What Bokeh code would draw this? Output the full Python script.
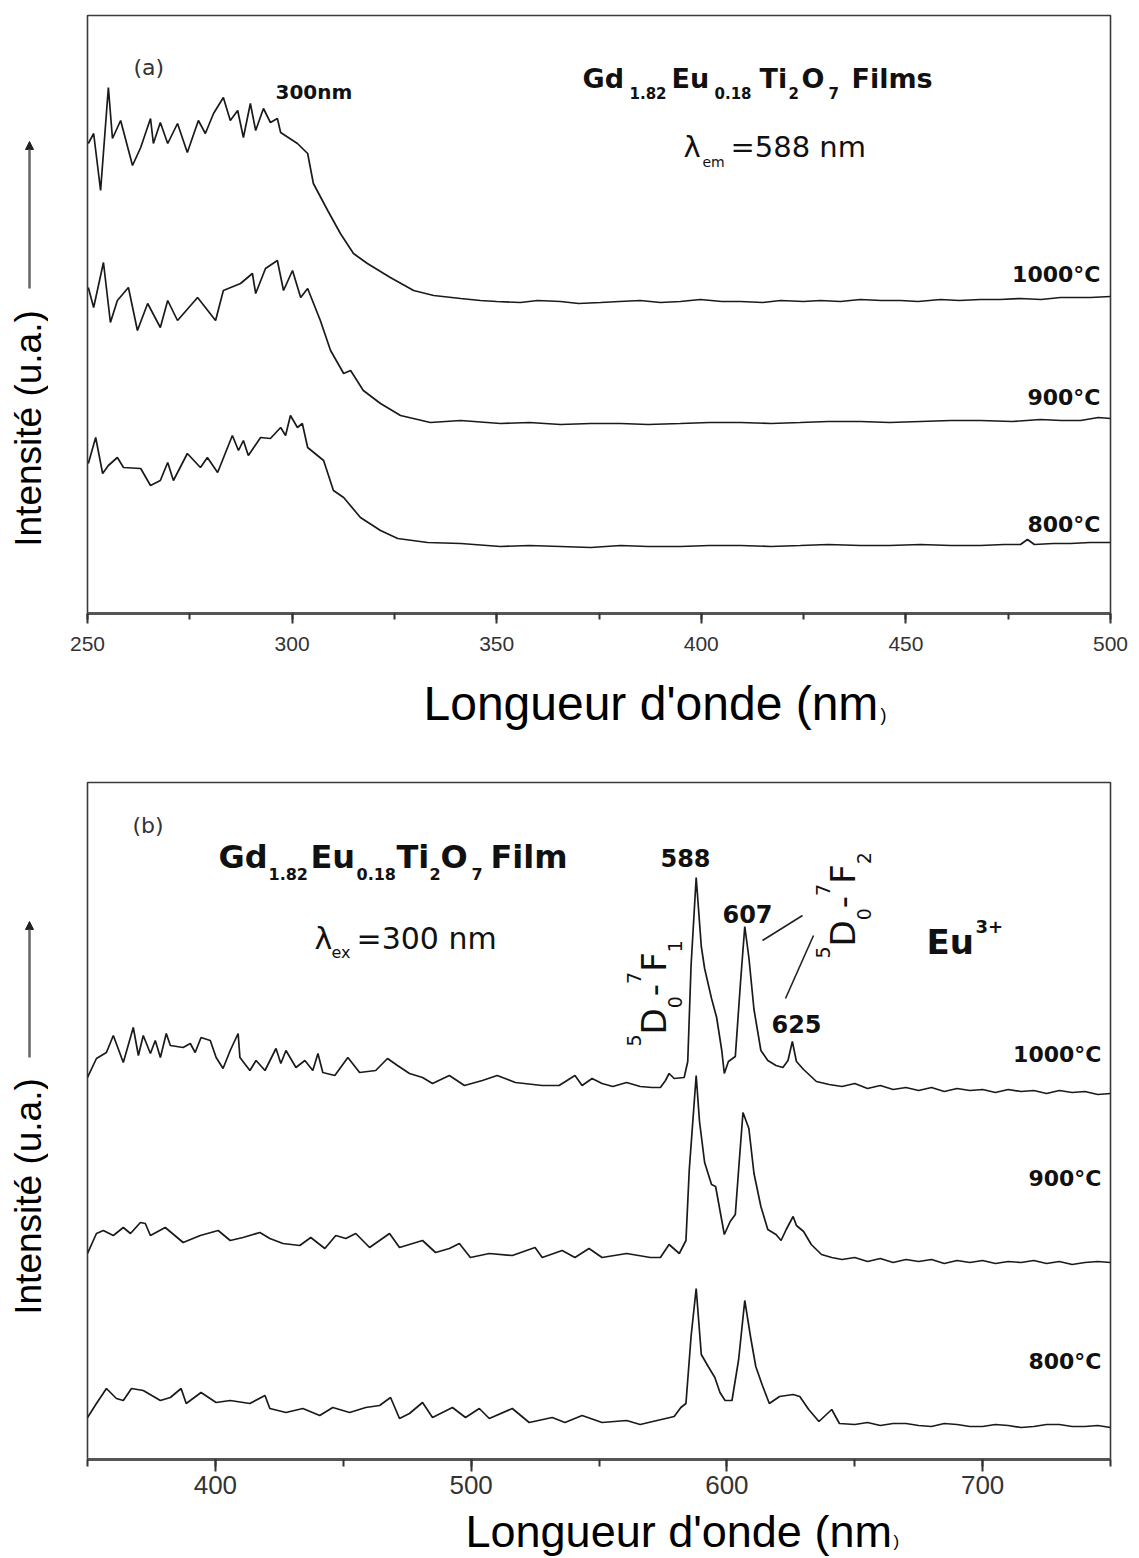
import math
from bokeh.plotting import figure
from bokeh.layouts import column, row
from bokeh.models import Label, Arrow, NormalHead, SingleIntervalTicker, Range1d
from bokeh.embed import file_html
from bokeh.resources import INLINE

# ---------------- Panel (a): excitation spectra (lambda_em = 588 nm) ----------------
a_x_1000 = [250.2, 251.5, 253.2, 255.1, 256.1, 258.1, 261.0, 263.0, 265.4, 266.1, 267.8, 269.6,
            272.0, 274.4, 277.1, 278.8, 280.8, 283.2, 284.9, 286.7, 288.1, 289.8, 291.1, 293.0,
            294.7, 296.4, 297.2, 301.3, 303.8, 305.2, 308.7, 311.8, 315.0, 318.4, 324.0, 329.7,
            334.6, 341.2, 346.0, 350.0, 355.8, 360.0, 365.6, 370.0, 375.4, 380.0, 385.1, 390.0,
            394.9, 399.8, 405.0, 409.6, 415.0, 419.4, 425.0, 429.1, 434.0, 438.9, 444.0, 448.7,
            453.0, 458.5, 463.0, 468.2, 473.0, 478.0, 483.0, 487.8, 492.0, 495.1, 500.0]
a_y_1000 = [470, 480, 423, 526, 475, 493, 448, 466, 495, 470, 491, 470,
            490, 461, 493, 480, 500, 516, 493, 503, 476, 510, 483, 505,
            491, 495, 481, 470, 460, 430, 403, 380, 360, 350, 336, 323,
            318, 315, 313, 312, 311, 313, 312, 310, 311, 312, 313, 311,
            312, 314, 312, 312, 311, 313, 312, 313, 312, 314, 313, 313,
            312, 314, 313, 314, 314, 315, 314, 316, 316, 316, 317]

a_x_900 = [250.2, 251.5, 253.9, 255.6, 257.3, 260.0, 262.2, 264.7, 267.8, 269.6, 272.0, 276.9,
           281.3, 283.2, 287.4, 290.3, 291.1, 293.5, 296.4, 297.9, 300.1, 302.1, 303.8, 306.9,
           309.4, 312.6, 314.3, 317.4, 321.6, 326.5, 333.8, 341.2, 350.9, 358.0, 365.6, 373.0,
           380.3, 387.0, 394.9, 402.0, 409.6, 417.0, 424.2, 431.0, 438.9, 446.0, 453.6, 461.0,
           468.2, 476.0, 482.9, 488.0, 492.7, 497.0, 500.0]
a_y_900 = [326, 306, 351, 291, 313, 326, 283, 310, 286, 313, 293, 316,
           293, 323, 330, 340, 320, 345, 353, 323, 343, 316, 325, 293,
           263, 240, 243, 223, 210, 198, 191, 193, 190, 191, 189, 190,
           190, 189, 190, 191, 191, 190, 191, 192, 192, 191, 192, 193,
           193, 192, 194, 193, 193, 196, 195]

a_x_800 = [250.2, 252.0, 253.7, 255.1, 257.3, 258.8, 263.0, 265.4, 267.8, 269.6, 271.0, 274.4,
           277.6, 279.3, 281.8, 285.4, 286.9, 288.1, 289.3, 292.3, 294.7, 297.2, 298.4, 299.6,
           301.3, 302.5, 303.8, 307.7, 310.1, 312.6, 316.7, 321.6, 325.8, 333.1, 341.2, 350.9,
           358.0, 365.6, 373.0, 380.3, 387.0, 394.9, 402.0, 409.6, 417.0, 424.2, 431.0, 438.9,
           446.0, 453.6, 461.0, 468.2, 474.0, 478.0, 479.7, 481.4, 486.0, 490.2, 495.0, 500.0]
a_y_800 = [150, 176, 140, 148, 156, 146, 145, 128, 133, 151, 133, 160,
           146, 156, 141, 178, 163, 173, 158, 176, 175, 186, 178, 198,
           186, 190, 166, 153, 123, 116, 96, 83, 75, 71, 70, 67,
           68, 67, 66, 68, 67, 67, 68, 68, 67, 68, 69, 68,
           68, 69, 68, 68, 69, 69, 74, 69, 70, 70, 71, 71]

# ---------------- Panel (b): emission spectra (lambda_ex = 300 nm) ----------------
b_x_1000 = [350.0, 353.5, 357.4, 360.1, 364.0, 367.9, 369.9, 371.8, 374.6, 376.5, 378.5, 380.8,
            382.4, 387.4, 390.2, 392.1, 394.4, 398.0, 400.3, 403.0, 405.8, 408.9, 409.6, 413.5,
            415.9, 419.4, 423.7, 425.6, 427.6, 431.5, 435.0, 438.1, 440.1, 442.0, 446.7, 451.8,
            456.4, 462.7, 467.3, 471.2, 475.9, 481.0, 484.9, 491.5, 497.4, 504.4, 510.2, 517.3,
            527.8, 534.4, 540.6, 543.4, 547.3, 551.2, 555.4, 560.8, 566.1, 570.7, 574.0, 576.0,
            577.4, 579.4, 583.3, 584.7, 586.0, 588.0, 590.0, 591.3, 594.0, 596.0, 598.0, 599.0,
            600.6, 603.3, 605.3, 607.0, 608.6, 610.6, 613.3, 616.0, 619.2, 621.9, 623.9, 625.6,
            627.2, 630.0, 635.0, 640.0, 645.0, 650.0, 655.0, 660.0, 665.0, 670.0, 675.0, 680.0,
            685.0, 690.0, 695.0, 700.0, 705.0, 710.0, 715.0, 720.0, 725.0, 730.0, 735.0, 740.0,
            745.0, 750.0]
b_y_1000 = [382, 401, 407, 424, 397, 432, 404, 424, 406, 419, 402, 426,
            414, 412, 416, 407, 422, 419, 402, 391, 409, 426, 402, 389,
            399, 389, 411, 396, 409, 392, 399, 389, 406, 387, 384, 402,
            387, 389, 401, 394, 386, 382, 376, 384, 374, 379, 384, 377,
            374, 374, 384, 374, 381, 376, 373, 377, 373, 372, 372, 379,
            386, 381, 382, 398, 494, 582, 513, 491, 461, 442, 409, 386,
            398, 403, 476, 533, 502, 450, 409, 399, 394, 392, 399, 418,
            398, 390, 378, 375, 373, 376, 371, 374, 370, 372, 369, 372,
            368, 371, 369, 370, 367, 370, 368, 369, 366, 369, 367, 368,
            365, 366]

b_x_900 = [350.0, 353.5, 356.2, 360.1, 364.0, 366.8, 370.7, 372.6, 374.6, 380.4, 387.4, 394.1,
           401.1, 405.8, 410.8, 417.4, 421.3, 426.4, 433.0, 437.3, 442.8, 447.1, 451.0, 454.9,
           460.3, 464.2, 468.1, 472.0, 481.0, 486.1, 491.5, 495.4, 499.7, 507.1, 516.1, 525.0,
           527.8, 535.6, 540.6, 546.1, 551.2, 560.8, 570.1, 574.0, 577.4, 581.4, 584.0, 585.3,
           588.0, 589.3, 591.3, 594.0, 595.6, 597.3, 599.0, 601.3, 603.3, 604.6, 606.3, 608.6,
           610.6, 613.3, 616.0, 619.2, 621.2, 623.2, 625.9, 627.2, 630.0, 633.0, 637.0, 641.0,
           645.0, 650.0, 655.0, 660.0, 665.0, 670.0, 675.0, 680.0, 685.0, 690.0, 695.0, 700.0,
           705.0, 710.0, 715.0, 720.0, 725.0, 730.0, 735.0, 740.0, 745.0, 750.0]
b_y_900 = [206, 226, 229, 224, 232, 226, 237, 236, 224, 232, 217, 224,
           229, 219, 222, 227, 221, 216, 214, 222, 211, 224, 221, 226,
           212, 219, 226, 212, 219, 207, 211, 216, 202, 206, 204, 212,
           202, 209, 202, 211, 202, 206, 202, 202, 215, 206, 219, 290,
           384, 338, 297, 275, 273, 249, 225, 238, 245, 290, 347, 331,
           286, 253, 230, 225, 219, 230, 243, 234, 228, 215, 205, 202,
           200, 202, 198, 201, 197, 200, 198, 200, 196, 199, 197, 199,
           196, 198, 197, 199, 196, 198, 195, 197, 198, 197]

b_x_800 = [350.0, 353.5, 357.4, 361.3, 364.0, 367.2, 371.8, 378.5, 382.4, 386.6, 388.6, 394.4,
           400.3, 405.8, 413.5, 419.4, 421.3, 427.6, 434.2, 440.8, 445.9, 452.5, 458.8, 464.2,
           468.5, 472.0, 475.9, 481.0, 484.9, 492.7, 497.8, 503.2, 507.1, 516.1, 522.7, 531.7,
           536.7, 543.4, 551.2, 560.8, 566.1, 572.7, 579.4, 582.0, 584.0, 586.0, 588.0, 590.0,
           592.7, 595.3, 597.3, 599.3, 602.0, 604.6, 607.0, 609.3, 611.3, 613.9, 616.6, 620.6,
           625.9, 628.5, 632.0, 636.0, 641.0, 644.0, 650.0, 655.0, 660.0, 665.0, 670.0, 675.0,
           680.0, 685.0, 690.0, 695.0, 700.0, 705.0, 710.0, 715.0, 720.0, 725.0, 730.0, 735.0,
           740.0, 745.0, 750.0]
b_y_800 = [42, 56, 71, 61, 59, 71, 69, 59, 62, 71, 56, 67,
           57, 59, 56, 64, 51, 47, 51, 44, 52, 47, 52, 54,
           62, 41, 46, 57, 42, 52, 42, 51, 41, 51, 37, 42,
           37, 44, 37, 39, 35, 39, 43, 52, 56, 123, 171, 105,
           93, 82, 67, 59, 59, 100, 159, 122, 93, 74, 56, 63,
           65, 63, 50, 38, 50, 36, 35, 37, 34, 36, 36, 34,
           33, 36, 35, 33, 33, 35, 34, 32, 33, 35, 35, 33,
           33, 34, 32]

temps = ["1000°C", "900°C", "800°C"]

LINE = "#1a1a1a"
LEFT_W = 48                 # left strip holding the vertical axis titles
RIGHT_W = 1139 - LEFT_W
BL, BR = 39, 29             # side borders of every figure in the right column
FX0, FX1 = LEFT_W + BL, 1139 - BR   # page x of the shared frame (87 .. 1110)
FW = FX1 - FX0


def make_fig(xr, yr, height, top, bottom, interval, tick_font, tick_out, standoff):
    p = figure(width=RIGHT_W, height=height, x_range=Range1d(*xr), y_range=Range1d(*yr),
               output_backend="svg", toolbar_location=None, y_axis_type=None,
               min_border_left=BL, min_border_right=BR, min_border_top=top,
               min_border_bottom=bottom, background_fill_color="white",
               border_fill_color="white")
    p.grid.visible = False
    p.outline_line_color = "#3a3a3a"
    p.outline_line_width = 1.6
    ax = p.xaxis[0]
    ax.ticker = SingleIntervalTicker(interval=interval, num_minor_ticks=2)
    ax.axis_line_color = "#555555"
    ax.axis_line_width = 3
    ax.major_tick_in = 0
    ax.major_tick_out = tick_out
    ax.minor_tick_in = 0
    ax.minor_tick_out = int(tick_out * 0.6)
    ax.major_tick_line_color = "#333333"
    ax.major_tick_line_width = 2
    ax.minor_tick_line_color = "#333333"
    ax.minor_tick_line_width = 2
    ax.major_label_text_font = "Liberation Sans"
    ax.major_label_text_font_size = tick_font
    ax.major_label_text_color = "#333333"
    ax.major_label_standoff = standoff
    return p


def strip(x0, y0, w, h, bl=0, br=0):
    """Blank figure; data coords = page px (y negated)."""
    s = figure(width=w, height=h, x_range=Range1d(x0 + bl, x0 + w - br),
               y_range=Range1d(-(y0 + h), -y0),
               output_backend="svg", toolbar_location=None, x_axis_type=None, y_axis_type=None,
               min_border=0, min_border_left=bl, min_border_right=br, min_border_top=0,
               min_border_bottom=0, background_fill_color="white", border_fill_color="white")
    s.outline_line_color = None
    s.grid.visible = False
    return s


def labeler(p, fx, fy):
    def lab(px, py, text, size, bold=False, align="left", baseline="alphabetic",
            angle=0.0, font="DejaVu Sans", color="#111111"):
        if baseline == "alphabetic":
            # the renderer anchors "alphabetic" near the middle of the capitals
            if angle == 0.0:
                py -= 0.35 * size
            else:
                px -= 0.35 * size
        p.add_layout(Label(x=fx(px), y=fy(py), text=text, text_font=font,
                           text_font_size=f"{size}px",
                           text_font_style="bold" if bold else "normal",
                           text_align=align, text_baseline=baseline, angle=angle,
                           text_color=color))
    return lab


# ---------------- Figure (a): page y 0..670 ----------------
pa = make_fig((250, 500), (0, 598), 670, 15, 57, 50, "21px", 10, 13)
fxa = lambda px: 250 + (px - FX0) * 250 / FW
fya = lambda py: 613 - py
for xs, ys in [(a_x_1000, a_y_1000), (a_x_900, a_y_900), (a_x_800, a_y_800)]:
    pa.line(xs, ys, line_color=LINE, line_width=1.7)

la = labeler(pa, fxa, fya)
la(133, 75, "(a)", 22, color="#333333")
la(275, 98, "300nm", 20, bold=True)
for t, x in [("Gd", 582), ("Eu", 671), ("Ti", 759), ("O", 801), ("Films", 851)]:
    la(x, 87, t, 27, bold=True)
for t, x in [("1.82", 629), ("0.18", 714), ("2", 788), ("7", 828)]:
    la(x, 98, t, 15, bold=True)
la(683, 157, "λ", 29)
la(702, 166, "em", 14)
la(730, 157, "=588 nm", 29)
for t, y in zip(temps, [282, 405, 532]):
    la(1100, y, t, 22, bold=True, align="right")

# x title strip (a): page y 670..740
xa = strip(LEFT_W, 670, RIGHT_W, 70, BL, BR)
lxa = labeler(xa, lambda px: px, lambda py: -py)
lxa(423, 720, "Longueur d'onde (nm", 48, font="Liberation Sans", color="black")
lxa(880, 721, ")", 18, font="Liberation Sans", color="black")

# ---------------- Figure (b): page y 740..1507 ----------------
pb = make_fig((350, 750), (0, 677), 767, 42, 48, 100, "26px", 12, 4)
fxb = lambda px: 350 + (px - FX0) * 400 / FW
fyb = lambda py: 1459 - py
for xs, ys in [(b_x_1000, b_y_1000), (b_x_900, b_y_900), (b_x_800, b_y_800)]:
    pb.line(xs, ys, line_color=LINE, line_width=1.7)

lb = labeler(pb, fxb, fyb)
lb(132, 833, "(b)", 22, color="#333333")
for t, x in [("Gd", 218), ("Eu", 310), ("Ti", 396), ("O", 440), ("Film", 490)]:
    lb(x, 868, t, 32, bold=True)
for t, x in [("1.82", 268), ("0.18", 356), ("2", 429), ("7", 471)]:
    lb(x, 879, t, 16, bold=True)
lb(314, 948, "λ", 30)
lb(331, 958, "ex", 16)
lb(356, 948, "=300 nm", 30)
lb(685, 866, "588", 24, bold=True, align="center")
lb(747, 922, "607", 24, bold=True, align="center")
lb(796, 1032, "625", 24, bold=True, align="center")
for (x0, y0, x1, y1) in [(762, 940, 802, 915), (785, 998, 813, 935)]:
    pb.add_layout(Arrow(x_start=fxb(x0), y_start=fyb(y0), x_end=fxb(x1), y_end=fyb(y1),
                        line_color="#222222", line_width=1.6, end=None))

ADV = {"D": 0.770, "-": 0.361, "F": 0.575}


def rotated_term(last, x_base, y_bottom, main=34, small=19):
    parts = [("5", "sup"), ("D", "main"), ("0", "sub"), ("-", "main"), ("7", "sup"),
             ("F", "main"), (last, "sub")]
    y = y_bottom
    for t, kind in parts:
        size = main if kind == "main" else small
        xb_ = x_base if kind == "main" else (x_base - 25 if kind == "sup" else x_base + 16)
        lb(xb_, y, t, size, angle=math.pi / 2)
        y -= (ADV.get(t, 0.636)) * size


rotated_term("1", 665, 1046)
rotated_term("2", 854, 958)
lb(926, 953, "Eu", 34, bold=True)
lb(975, 932, "3+", 18, bold=True)
for t, y in zip(temps, [1062, 1186, 1369]):
    lb(1101, y, t, 22, bold=True, align="right")

# x title strip (b): page y 1507..1558
xb = strip(LEFT_W, 1507, RIGHT_W, 51, BL, BR)
lxb = labeler(xb, lambda px: px, lambda py: -py)
lxb(465, 1547, "Longueur d'onde (nm", 45, font="Liberation Sans", color="black")
lxb(893, 1547, ")", 17, font="Liberation Sans", color="black")

# ---------------- left strip with vertical titles and arrows ----------------
left = strip(0, 0, LEFT_W, 1558)
ll = labeler(left, lambda px: px, lambda py: -py)
for cy, a0, a1 in [(428, 288, 141), (1196, 1057, 921)]:
    ll(28, cy, "Intensité (u.a.)", 37, align="center", baseline="middle",
       angle=math.pi / 2, font="Liberation Sans", color="black")
    left.add_layout(Arrow(x_start=29, y_start=-a0, x_end=29, y_end=-a1,
                          line_color="#666666", line_width=2.5,
                          end=NormalHead(size=8, fill_color="#222222", line_color="#222222")))

layout = row(left, column(pa, xa, pb, xb))
open("out.html", "w").write(file_html(layout, INLINE))
